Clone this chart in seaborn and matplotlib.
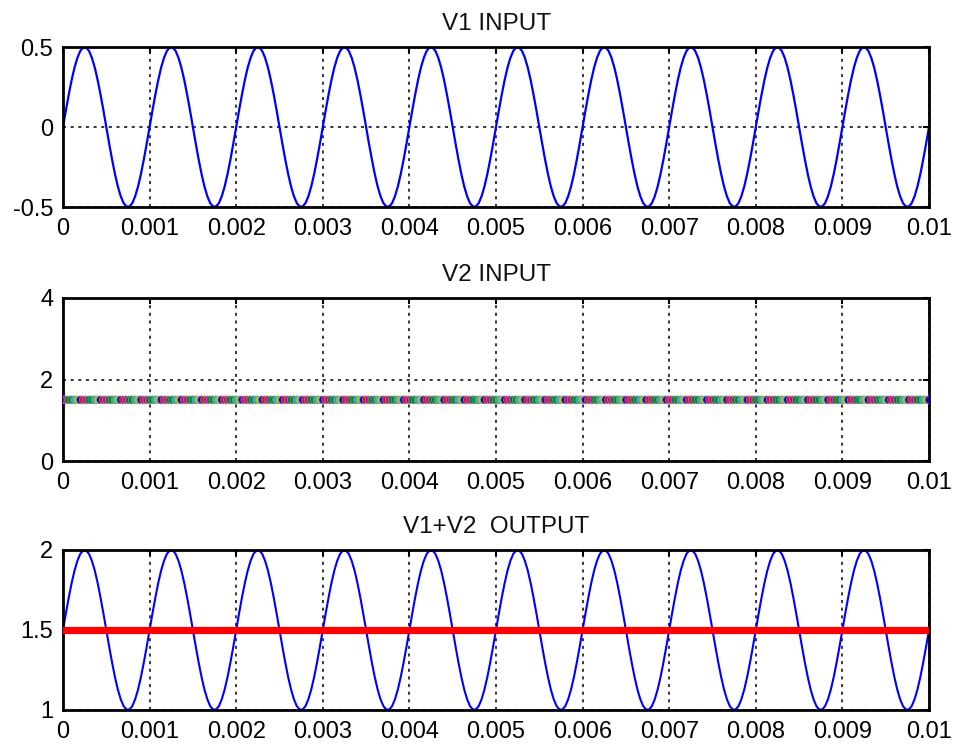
import numpy as np
import pandas as pd
import matplotlib
matplotlib.use("Agg")
import matplotlib.pyplot as plt
import seaborn as sns

# ---- data ----
t_start, t_end, n_samples = 0.0, 0.01, 301
# one period of V1 (30 samples per 1 ms period), amplitude 0.5
v1_period = [0.0, 0.104, 0.203, 0.294, 0.372, 0.433, 0.476, 0.497, 0.497, 0.476,
             0.433, 0.372, 0.294, 0.203, 0.104, 0.0, -0.104, -0.203, -0.294, -0.372,
             -0.433, -0.476, -0.497, -0.497, -0.476, -0.433, -0.372, -0.294, -0.203, -0.104]
n_periods = 10
v2_level = 1.5
x_ticks = [0, 0.001, 0.002, 0.003, 0.004, 0.005, 0.006, 0.007, 0.008, 0.009, 0.01]
x_tick_labels = ["0", "0.001", "0.002", "0.003", "0.004", "0.005", "0.006", "0.007", "0.008", "0.009", "0.01"]
titles = ["V1 INPUT", "V2 INPUT", "V1+V2  OUTPUT"]
y1_ticks, y1_labels = [-0.5, 0, 0.5], ["-0.5", "0", "0.5"]
y2_ticks, y2_labels = [0, 2, 4], ["0", "2", "4"]
y3_ticks, y3_labels = [1, 1.5, 2], ["1", "1.5", "2"]
dot_colors = ["#ff0000", "#bf00bf", "#008000", "#007a3d", "#00bfbf", "#bfbf00", "#0000ff"]

t = np.linspace(t_start, t_end, n_samples)
v1 = np.concatenate([np.tile(v1_period, n_periods), [0.0]])
v2 = np.full(n_samples, v2_level)
v_out = v2 + v1

df = pd.DataFrame({"t": t, "v1": v1, "v2": v2, "out": v_out,
                   "c": [i % len(dot_colors) for i in range(n_samples)]})

sns.set_theme(style="white")
plt.rcParams["font.family"] = ["Liberation Sans", "DejaVu Sans"]

fig = plt.figure(figsize=(9.57, 7.51), dpi=100)
W, H = 957, 751
def box(left, top, right, bottom):
    return [left / W, 1 - bottom / H, (right - left) / W, (bottom - top) / H]

ax1 = fig.add_axes(box(63, 47, 929, 207))
ax2 = fig.add_axes(box(63, 298, 929, 461))
ax3 = fig.add_axes(box(63, 550, 929, 710))

sns.lineplot(data=df, x="t", y="v1", ax=ax1, color="#0000ff", linewidth=1.6)
sns.scatterplot(data=df, x="t", y="v2", hue="c", palette=dot_colors, ax=ax2,
                s=32, linewidth=0.5, edgecolor="#999999", legend=False, zorder=3)
sns.lineplot(data=df, x="t", y="out", ax=ax3, color="#0000ff", linewidth=1.5)
sns.lineplot(data=df, x="t", y="v2", ax=ax3, color="#ff0000", linewidth=5.2, zorder=3)

specs = [(ax1, (-0.5, 0.5), y1_ticks, y1_labels, titles[0]),
         (ax2, (0, 4), y2_ticks, y2_labels, titles[1]),
         (ax3, (1, 2), y3_ticks, y3_labels, titles[2])]
for ax, ylim, yt, yl, title in specs:
    ax.set_xlim(t_start, t_end)
    ax.set_ylim(*ylim)
    ax.set_xticks(x_ticks)
    ax.set_xticklabels(x_tick_labels)
    ax.set_yticks(yt)
    ax.set_yticklabels(yl)
    ax.set_xlabel("")
    ax.set_ylabel("")
    ax.set_title(title, fontsize=17.5, pad=12, color="#111111")
    ax.grid(True, color="black", linestyle=(0, (2, 3)), linewidth=1.1)
    ax.tick_params(direction="in", length=4, width=1.5, labelsize=17,
                   colors="black", top=True, right=True)
    ax.tick_params(axis="x", pad=8)
    ax.tick_params(axis="y", pad=7)
    for s in ax.spines.values():
        s.set_visible(True)
        s.set_color("black")
        s.set_linewidth(2)
    ax.set_axisbelow(True)
    ax.set_facecolor("white")

fig.savefig("out.png", dpi=100, facecolor="white")
